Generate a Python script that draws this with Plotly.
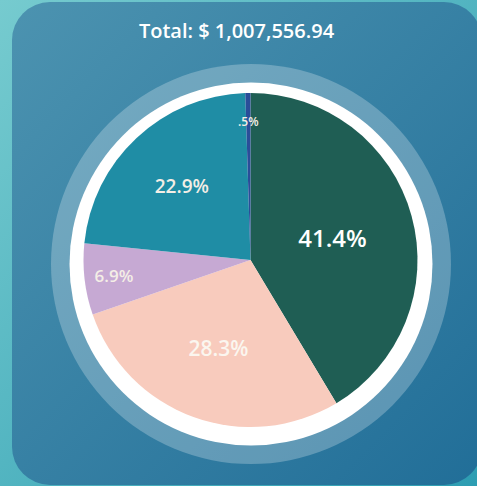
import base64
import math
import plotly.graph_objects as go

# ---- data ----
categories = ["Category A", "Category B", "Category C", "Category D", "Category E"]
amounts = [417128.57, 285138.61, 69521.43, 230730.54, 5037.79]
slice_colors = ["#1f5e54", "#f8cbbd", "#c6a9d3", "#1f8da5", "#2a4d99"]

W, H = 477, 486
total = sum(amounts)
pcts = [a / total * 100 for a in amounts]


def fmt_pct(p):
    s = f"{p:.1f}%"
    if s.startswith("0."):
        s = s[1:]
    return s


labels_txt = [fmt_pct(p) for p in pcts]

# ---- background (gradient page + rounded panel) ----
svg = f"""<svg xmlns='http://www.w3.org/2000/svg' width='{W}' height='{H}' viewBox='0 0 {W} {H}'>
<defs>
<linearGradient id='bg' x1='0' y1='0' x2='1' y2='1'>
<stop offset='0' stop-color='#76cbcf'/><stop offset='1' stop-color='#2d9db2'/>
</linearGradient>
<linearGradient id='pn' x1='0' y1='0' x2='1' y2='1'>
<stop offset='0' stop-color='#4c93b0'/><stop offset='1' stop-color='#216e98'/>
</linearGradient>
</defs>
<rect width='{W}' height='{H}' fill='url(#bg)'/>
<rect x='12' y='2' width='470' height='483' rx='38' ry='38' fill='url(#pn)'/>
</svg>"""
svg_uri = "data:image/svg+xml;base64," + base64.b64encode(svg.encode()).decode()


def px_x(x):
    return x / W


def px_y(y):
    return 1 - y / H


def circle(cx, cy, r, color):
    return dict(type="circle", xref="paper", yref="paper",
                x0=px_x(cx - r), x1=px_x(cx + r), y0=px_y(cy + r), y1=px_y(cy - r),
                fillcolor=color, line=dict(width=0), layer="below")


pie_cx, pie_cy, pie_r = 250.5, 260, 167

text_font_sizes = [24, 21, 17, 19, 12]
text_weights = [600, 600, 600, 600, 600]
text_colors = ["#ffffff", "#fbf6ef", "#f4eee6", "#f4eee6", "#f4eee6"]

inside_text = [t if i != 4 else "" for i, t in enumerate(labels_txt)]

fig = go.Figure(go.Pie(
    labels=categories,
    values=amounts,
    sort=False,
    direction="clockwise",
    rotation=0,
    marker=dict(colors=slice_colors, line=dict(width=0)),
    text=inside_text,
    textinfo="text",
    textposition="inside",
    insidetextorientation="horizontal",
    textfont=dict(family="Open Sans", size=text_font_sizes, color=text_colors,
                  weight=text_weights),
    hoverinfo="label+value+percent",
    showlegend=False,
    domain=dict(x=[px_x(pie_cx - pie_r), px_x(pie_cx + pie_r)],
                y=[px_y(pie_cy + pie_r), px_y(pie_cy - pie_r)]),
))

# label for the tiny slice, placed along its mid-angle
cum = sum(pcts[:4]) / 100
mid = 2 * math.pi * (cum + pcts[4] / 200)
lr = 0.83 * pie_r
lx = pie_cx + lr * math.sin(mid)
ly = pie_cy - lr * math.cos(mid)

fig.update_layout(
    width=W, height=H,
    margin=dict(l=0, r=0, t=0, b=0),
    paper_bgcolor="rgba(0,0,0,0)",
    plot_bgcolor="rgba(0,0,0,0)",
    images=[dict(source=svg_uri, xref="paper", yref="paper", x=0, y=1,
                 sizex=1, sizey=1, sizing="stretch", xanchor="left", yanchor="top",
                 layer="below")],
    shapes=[circle(251, 264, 200, "rgba(255,255,255,0.25)"),
            circle(251, 264, 181.5, "#ffffff")],
    title=dict(text=f"Total: $ {total:,.2f}", x=px_x(236.5), xanchor="center",
               y=px_y(31), yanchor="middle",
               font=dict(family="Open Sans", size=20, color="#ffffff", weight=600)),
    annotations=[dict(text=labels_txt[4], x=px_x(lx), y=px_y(ly), xref="paper", yref="paper",
                      showarrow=False, xanchor="center", yanchor="middle",
                      font=dict(family="Open Sans", size=12, color="#f4eee6", weight=600))],
)

fig.write_html("out.html")
